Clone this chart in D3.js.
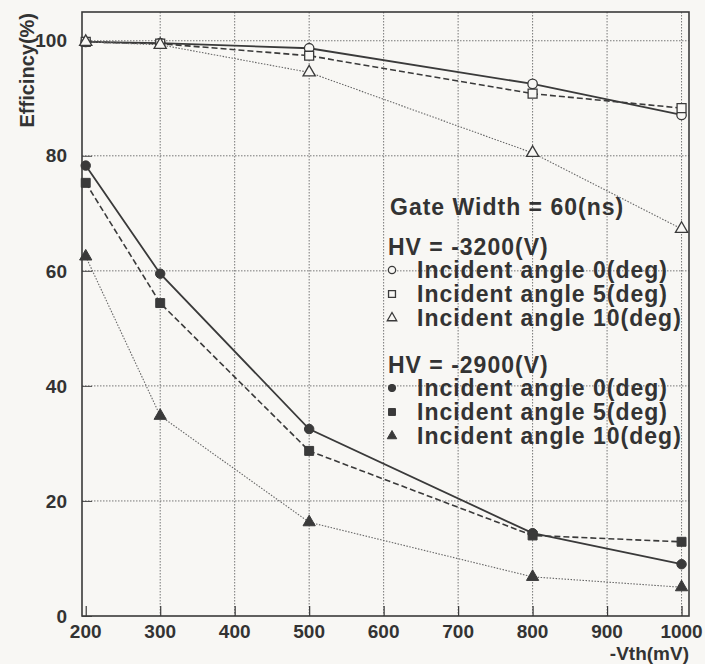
<!DOCTYPE html>
<html>
<head>
<meta charset="utf-8">
<script src="https://cdn.jsdelivr.net/npm/d3@7"></script>
<style>
    body { margin: 0; background: #f8f7f4; }
    svg { display: block; }
    text { font-family: "Liberation Sans", Arial, sans-serif; font-weight: bold; fill: #333; }
</style>
</head>
<body>
<div id="chart"></div>
<script>
// threshold values (-Vth, mV)
const vth = [200, 300, 500, 800, 1000];

// efficiency (%)
const hv3200_a0 = [99.8, 99.6, 98.7, 92.5, 87.1];
const hv3200_a5 = [99.8, 99.5, 97.4, 90.8, 88.3];
const hv3200_a10 = [99.8, 99.3, 94.5, 80.5, 67.3];
const hv2900_a0 = [78.3, 59.5, 32.5, 14.4, 9.0];
const hv2900_a5 = [75.3, 54.4, 28.7, 14.0, 12.9];
const hv2900_a10 = [62.5, 34.8, 16.3, 6.8, 5.0];

const xTicks = [200, 300, 400, 500, 600, 700, 800, 900, 1000];
const yTicks = [0, 20, 40, 60, 80, 100];

const legendTitle = "Gate Width = 60(ns)";
const groupLabels = ["HV = -3200(V)", "HV = -2900(V)"];
const angleLabels = ["Incident angle 0(deg)", "Incident angle 5(deg)", "Incident angle 10(deg)"];

const W = 705, H = 664;
const frame = {left: 82, right: 689, top: 12, bottom: 616};
const ink = "#3a3a3a";
const paper = "#f8f7f4";

const x = d3.scaleLinear().domain([195, 1010]).range([frame.left, frame.right]);
const y = d3.scaleLinear().domain([0, 105]).range([frame.bottom, frame.top]);

const svg = d3.select("#chart").append("svg")
    .attr("width", W)
    .attr("height", H);

// grid
const grid = svg.append("g")
    .attr("stroke", "#777")
    .attr("stroke-width", 1)
    .attr("stroke-dasharray", "1.5,1.5");
grid.selectAll(".gx")
    .data(xTicks.slice(1))
    .enter().append("line")
    .attr("x1", d => x(d)).attr("x2", d => x(d))
    .attr("y1", frame.top).attr("y2", frame.bottom);
grid.selectAll(".gy")
    .data(yTicks.slice(1))
    .enter().append("line")
    .attr("x1", frame.left).attr("x2", frame.right)
    .attr("y1", d => y(d)).attr("y2", d => y(d));

// x axis, ticks pointing up
const xAxis = svg.append("g")
    .attr("transform", "translate(0," + frame.bottom + ")");
xAxis.call(d3.axisTop(x).tickValues(d3.range(200, 1001, 20)).tickSize(5).tickFormat(""))
xAxis.call(d3.axisTop(x).tickValues(xTicks).tickSize(10).tickFormat(""));
xAxis.selectAll("path").remove();
xAxis.selectAll("line").attr("stroke", ink).attr("stroke-width", 1.2);

xAxis.selectAll(".xlab")
    .data(xTicks)
    .enter().append("text")
    .attr("x", d => x(d))
    .attr("y", 22)
    .attr("text-anchor", "middle")
    .attr("font-size", 19)
    .text(d => d);

// y axis, ticks pointing right
const yAxis = svg.append("g")
    .attr("transform", "translate(" + frame.left + ",0)");
yAxis.call(d3.axisRight(y).tickValues(d3.range(0, 105, 1)).tickSize(3).tickFormat(""));
yAxis.call(d3.axisRight(y).tickValues(d3.range(0, 105, 5)).tickSize(6).tickFormat(""));
yAxis.call(d3.axisRight(y).tickValues(yTicks).tickSize(10).tickFormat(""));
yAxis.selectAll("path").remove();
yAxis.selectAll("line").attr("stroke", ink).attr("stroke-width", 0.9);

yAxis.selectAll(".ylab")
    .data(yTicks)
    .enter().append("text")
    .attr("x", -15)
    .attr("y", d => y(d))
    .attr("dy", "0.35em")
    .attr("text-anchor", "end")
    .attr("font-size", 19)
    .text(d => d);

// frame
svg.append("rect")
    .attr("x", frame.left).attr("y", frame.top)
    .attr("width", frame.right - frame.left)
    .attr("height", frame.bottom - frame.top)
    .attr("fill", "none")
    .attr("stroke", ink)
    .attr("stroke-width", 1.6);

// axis titles
svg.append("text")
    .attr("transform", "translate(34,13) rotate(-90)")
    .attr("text-anchor", "end")
    .attr("font-size", 20)
    .text("Efficincy(%)");

svg.append("text")
    .attr("x", frame.right)
    .attr("y", 660)
    .attr("text-anchor", "end")
    .attr("font-size", 19)
    .text("-Vth(mV)");

// series
const dashes = [null, "6,3", "1.5,1.5"];
const widths = [1.8, 1.6, 1.1];
const series = [
    {vals: hv3200_a0, shape: "circle", filled: false, style: 0},
    {vals: hv3200_a5, shape: "square", filled: false, style: 1},
    {vals: hv3200_a10, shape: "triangle", filled: false, style: 2},
    {vals: hv2900_a0, shape: "circle", filled: true, style: 0},
    {vals: hv2900_a5, shape: "square", filled: true, style: 1},
    {vals: hv2900_a10, shape: "triangle", filled: true, style: 2}
];

const symType = {circle: d3.symbolCircle, square: d3.symbolSquare, triangle: d3.symbolTriangle};
const symSize = {circle: 70, square: 80, triangle: 65};

function marker(sel, s, scale) {
    sel.attr("d", d3.symbol().type(symType[s.shape]).size(symSize[s.shape] * (scale || 1)))
        .attr("fill", s.filled ? ink : paper)
        .attr("stroke", ink)
        .attr("stroke-width", s.filled ? 1 : 1.3);
}

const line = d3.line()
    .x((d, i) => x(vth[i]))
    .y(d => y(d));

series.forEach(s => {
    svg.append("path")
        .datum(s.vals)
        .attr("d", line)
        .attr("fill", "none")
        .attr("stroke", s.style === 2 ? "#666" : ink)
        .attr("stroke-width", widths[s.style])
        .attr("stroke-dasharray", dashes[s.style]);
});

series.forEach(s => {
    svg.append("g").selectAll("path")
        .data(s.vals)
        .enter().append("path")
        .attr("transform", (d, i) => "translate(" + x(vth[i]) + "," + y(d) + ")")
        .call(marker, s);
});

// legend
const legend = svg.append("g")
    .attr("font-size", 23)
    .attr("letter-spacing", 1);
legend.append("text")
    .attr("x", 390).attr("y", 215)
    .text(legendTitle);

const groupTop = [255, 373];
groupLabels.forEach((lab, gi) => {
    legend.append("text")
        .attr("x", 388).attr("y", groupTop[gi])
        .text(lab);
    angleLabels.forEach((a, ai) => {
        const s = series[gi * 3 + ai];
        const by = groupTop[gi] + 23 + ai * 24;
        legend.append("path")
            .attr("transform", "translate(392," + (by - 8) + ")")
            .call(marker, s, 0.6);
        legend.append("text")
            .attr("x", 417).attr("y", by)
            .text(a);
    });
});
</script>
</body>
</html>
